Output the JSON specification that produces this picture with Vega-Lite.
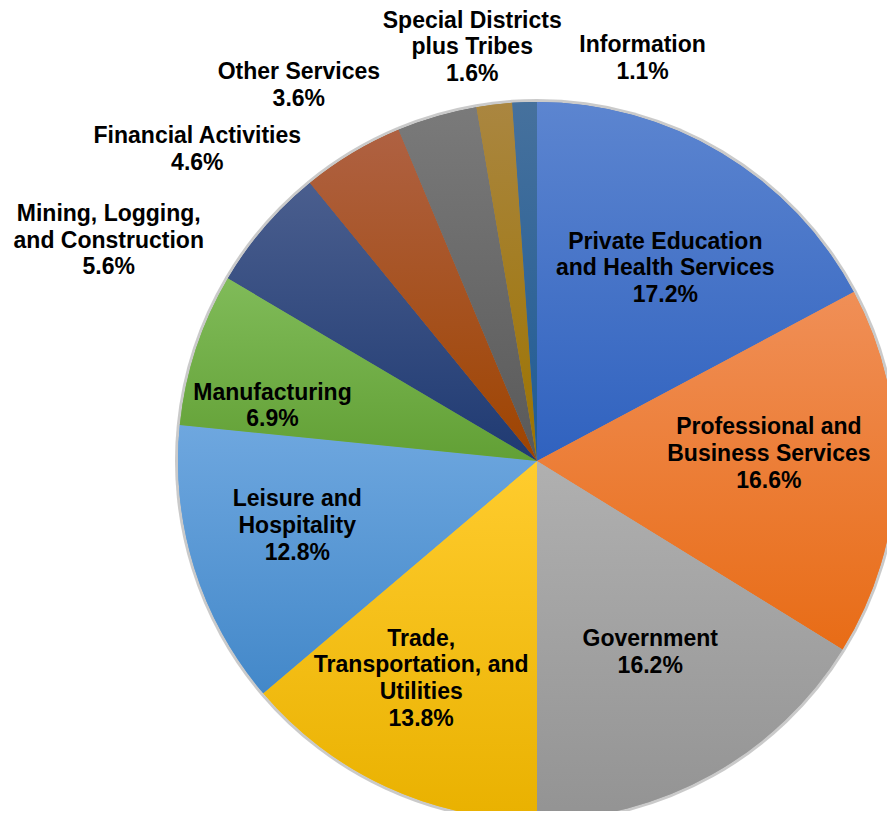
{
  "$schema": "https://vega.github.io/schema/vega-lite/v6.json",
  "width": 700,
  "height": 700,
  "autosize": {"type": "none"},
  "padding": {"left": 187, "top": 111, "right": 0, "bottom": 0},
  "background": "white",
  "config": {"view": {"stroke": null}},
  "data": {
    "values": [
      {"order": 1, "category": "Private Education and Health Services", "value": 17.2, "label": "Private Education\nand Health Services\n17.2%"},
      {"order": 2, "category": "Professional and Business Services", "value": 16.6, "label": "Professional and\nBusiness Services\n16.6%"},
      {"order": 3, "category": "Government", "value": 16.2, "label": "Government\n16.2%"},
      {"order": 4, "category": "Trade, Transportation, and Utilities", "value": 13.8, "label": "Trade,\nTransportation, and\nUtilities\n13.8%"},
      {"order": 5, "category": "Leisure and Hospitality", "value": 12.8, "label": "Leisure and\nHospitality\n12.8%"},
      {"order": 6, "category": "Manufacturing", "value": 6.9, "label": "Manufacturing\n6.9%"},
      {"order": 7, "category": "Mining, Logging, and Construction", "value": 5.6, "label": "Mining, Logging,\nand Construction\n5.6%"},
      {"order": 8, "category": "Financial Activities", "value": 4.6, "label": "Financial Activities\n4.6%"},
      {"order": 9, "category": "Other Services", "value": 3.6, "label": "Other Services\n3.6%"},
      {"order": 10, "category": "Special Districts plus Tribes", "value": 1.6, "label": "Special Districts\nplus Tribes\n1.6%"},
      {"order": 11, "category": "Information", "value": 1.1, "label": "Information\n1.1%"}
    ]
  },
  "encoding": {
    "theta": {"field": "value", "type": "quantitative", "stack": true},
    "order": {"field": "order", "type": "quantitative"}
  },
  "layer": [
    {"mark": {"type": "arc", "radius": 362, "color": "#8a8a8a", "opacity": 0.45}},
    {
      "mark": {"type": "arc", "radius": 359},
      "encoding": {
        "color": {
          "field": "category",
          "type": "nominal",
          "legend": null,
          "scale": {
            "domain": ["Private Education and Health Services", "Professional and Business Services", "Government", "Trade, Transportation, and Utilities", "Leisure and Hospitality", "Manufacturing", "Mining, Logging, and Construction", "Financial Activities", "Other Services", "Special Districts plus Tribes", "Information"],
            "range": ["#4573C6", "#EF7D33", "#A5A5A5", "#FBBF0A", "#5A9AD6", "#70AD47", "#2C477E", "#A34D1A", "#666666", "#A07A1C", "#2A6096"]
          }
        }
      }
    },
    {"mark": {"type": "arc", "radius": 359, "color": {"gradient": "linear", "x1": 0, "y1": 0, "x2": 0, "y2": 1, "stops": [{"offset": 0, "color": "#5C85D0"}, {"offset": 1, "color": "#3062BF"}]}},
     "encoding": {"opacity": {"condition": {"test": "datum.order === 1", "value": 1}, "value": 0}}},
    {"mark": {"type": "arc", "radius": 359, "color": {"gradient": "linear", "x1": 0, "y1": 0, "x2": 0, "y2": 1, "stops": [{"offset": 0, "color": "#F08F57"}, {"offset": 1, "color": "#E86C16"}]}},
     "encoding": {"opacity": {"condition": {"test": "datum.order === 2", "value": 1}, "value": 0}}},
    {"mark": {"type": "arc", "radius": 359, "color": {"gradient": "linear", "x1": 0, "y1": 0, "x2": 0, "y2": 1, "stops": [{"offset": 0, "color": "#B0B0B0"}, {"offset": 1, "color": "#939393"}]}},
     "encoding": {"opacity": {"condition": {"test": "datum.order === 3", "value": 1}, "value": 0}}},
    {"mark": {"type": "arc", "radius": 359, "color": {"gradient": "linear", "x1": 0, "y1": 0, "x2": 0, "y2": 1, "stops": [{"offset": 0, "color": "#FFCC2E"}, {"offset": 1, "color": "#E9B100"}]}},
     "encoding": {"opacity": {"condition": {"test": "datum.order === 4", "value": 1}, "value": 0}}},
    {"mark": {"type": "arc", "radius": 359, "color": {"gradient": "linear", "x1": 0, "y1": 0, "x2": 0, "y2": 1, "stops": [{"offset": 0, "color": "#6EA7DF"}, {"offset": 1, "color": "#4388C9"}]}},
     "encoding": {"opacity": {"condition": {"test": "datum.order === 5", "value": 1}, "value": 0}}},
    {"mark": {"type": "arc", "radius": 359, "color": {"gradient": "linear", "x1": 0, "y1": 0, "x2": 0, "y2": 1, "stops": [{"offset": 0, "color": "#80BB59"}, {"offset": 1, "color": "#62A035"}]}},
     "encoding": {"opacity": {"condition": {"test": "datum.order === 6", "value": 1}, "value": 0}}},
    {"mark": {"type": "arc", "radius": 359, "color": {"gradient": "linear", "x1": 0, "y1": 0, "x2": 0, "y2": 1, "stops": [{"offset": 0, "color": "#4A5E8E"}, {"offset": 1, "color": "#1F3A72"}]}},
     "encoding": {"opacity": {"condition": {"test": "datum.order === 7", "value": 1}, "value": 0}}},
    {"mark": {"type": "arc", "radius": 359, "color": {"gradient": "linear", "x1": 0, "y1": 0, "x2": 0, "y2": 1, "stops": [{"offset": 0, "color": "#AF6142"}, {"offset": 1, "color": "#9E4400"}]}},
     "encoding": {"opacity": {"condition": {"test": "datum.order === 8", "value": 1}, "value": 0}}},
    {"mark": {"type": "arc", "radius": 359, "color": {"gradient": "linear", "x1": 0, "y1": 0, "x2": 0, "y2": 1, "stops": [{"offset": 0, "color": "#7A7A7A"}, {"offset": 1, "color": "#595959"}]}},
     "encoding": {"opacity": {"condition": {"test": "datum.order === 9", "value": 1}, "value": 0}}},
    {"mark": {"type": "arc", "radius": 359, "color": {"gradient": "linear", "x1": 0, "y1": 0, "x2": 0, "y2": 1, "stops": [{"offset": 0, "color": "#AA8640"}, {"offset": 1, "color": "#9C7300"}]}},
     "encoding": {"opacity": {"condition": {"test": "datum.order === 10", "value": 1}, "value": 0}}},
    {"mark": {"type": "arc", "radius": 359, "color": {"gradient": "linear", "x1": 0, "y1": 0, "x2": 0, "y2": 1, "stops": [{"offset": 0, "color": "#46719D"}, {"offset": 1, "color": "#1F5B94"}]}},
     "encoding": {"opacity": {"condition": {"test": "datum.order === 11", "value": 1}, "value": 0}}},
    {
      "mark": {"type": "text", "radius": 230, "dx": 10, "dy": -22, "font": "Liberation Sans", "fontSize": 23, "fontWeight": "bold", "lineBreak": "\n", "lineHeight": 26.7, "align": "center", "baseline": "middle", "color": "#000000"},
      "encoding": {"text": {"condition": {"test": "datum.category === 'Private Education and Health Services'", "field": "label", "type": "nominal"}, "value": ""}}
    },
    {
      "mark": {"type": "text", "radius": 230, "dx": 2, "dy": -41, "font": "Liberation Sans", "fontSize": 23, "fontWeight": "bold", "lineBreak": "\n", "lineHeight": 26.7, "align": "center", "baseline": "middle", "color": "#000000"},
      "encoding": {"text": {"condition": {"test": "datum.category === 'Professional and Business Services'", "field": "label", "type": "nominal"}, "value": ""}}
    },
    {
      "mark": {"type": "text", "radius": 218, "dx": 7, "dy": -12, "font": "Liberation Sans", "fontSize": 23, "fontWeight": "bold", "lineBreak": "\n", "lineHeight": 26.7, "align": "center", "baseline": "middle", "color": "#000000"},
      "encoding": {"text": {"condition": {"test": "datum.category === 'Government'", "field": "label", "type": "nominal"}, "value": ""}}
    },
    {
      "mark": {"type": "text", "radius": 240, "dx": -15, "dy": -40, "font": "Liberation Sans", "fontSize": 23, "fontWeight": "bold", "lineBreak": "\n", "lineHeight": 26.7, "align": "center", "baseline": "middle", "color": "#000000"},
      "encoding": {"text": {"condition": {"test": "datum.category === 'Trade, Transportation, and Utilities'", "field": "label", "type": "nominal"}, "value": ""}}
    },
    {
      "mark": {"type": "text", "radius": 250, "dx": -1, "dy": -36, "font": "Liberation Sans", "fontSize": 23, "fontWeight": "bold", "lineBreak": "\n", "lineHeight": 26.7, "align": "center", "baseline": "middle", "color": "#000000"},
      "encoding": {"text": {"condition": {"test": "datum.category === 'Leisure and Hospitality'", "field": "label", "type": "nominal"}, "value": ""}}
    },
    {
      "mark": {"type": "text", "radius": 270, "dx": -8, "dy": 16, "font": "Liberation Sans", "fontSize": 23, "fontWeight": "bold", "lineBreak": "\n", "lineHeight": 26.7, "align": "center", "baseline": "middle", "color": "#000000"},
      "encoding": {"text": {"condition": {"test": "datum.category === 'Manufacturing'", "field": "label", "type": "nominal"}, "value": ""}}
    },
    {
      "mark": {"type": "text", "radius": 359, "dx": -156, "dy": -13, "font": "Liberation Sans", "fontSize": 23, "fontWeight": "bold", "lineBreak": "\n", "lineHeight": 26.7, "align": "center", "baseline": "middle", "color": "#000000"},
      "encoding": {"text": {"condition": {"test": "datum.category === 'Mining, Logging, and Construction'", "field": "label", "type": "nominal"}, "value": ""}}
    },
    {
      "mark": {"type": "text", "radius": 359, "dx": -155, "dy": -17, "font": "Liberation Sans", "fontSize": 23, "fontWeight": "bold", "lineBreak": "\n", "lineHeight": 26.7, "align": "center", "baseline": "middle", "color": "#000000"},
      "encoding": {"text": {"condition": {"test": "datum.category === 'Financial Activities'", "field": "label", "type": "nominal"}, "value": ""}}
    },
    {
      "mark": {"type": "text", "radius": 359, "dx": -138, "dy": -44, "font": "Liberation Sans", "fontSize": 23, "fontWeight": "bold", "lineBreak": "\n", "lineHeight": 26.7, "align": "center", "baseline": "middle", "color": "#000000"},
      "encoding": {"text": {"condition": {"test": "datum.category === 'Other Services'", "field": "label", "type": "nominal"}, "value": ""}}
    },
    {
      "mark": {"type": "text", "radius": 359, "dx": -22, "dy": -84, "font": "Liberation Sans", "fontSize": 23, "fontWeight": "bold", "lineBreak": "\n", "lineHeight": 26.7, "align": "center", "baseline": "middle", "color": "#000000"},
      "encoding": {"text": {"condition": {"test": "datum.category === 'Special Districts plus Tribes'", "field": "label", "type": "nominal"}, "value": ""}}
    },
    {
      "mark": {"type": "text", "radius": 359, "dx": 118, "dy": -57, "font": "Liberation Sans", "fontSize": 23, "fontWeight": "bold", "lineBreak": "\n", "lineHeight": 26.7, "align": "center", "baseline": "middle", "color": "#000000"},
      "encoding": {"text": {"condition": {"test": "datum.category === 'Information'", "field": "label", "type": "nominal"}, "value": ""}}
    }
  ]
}
